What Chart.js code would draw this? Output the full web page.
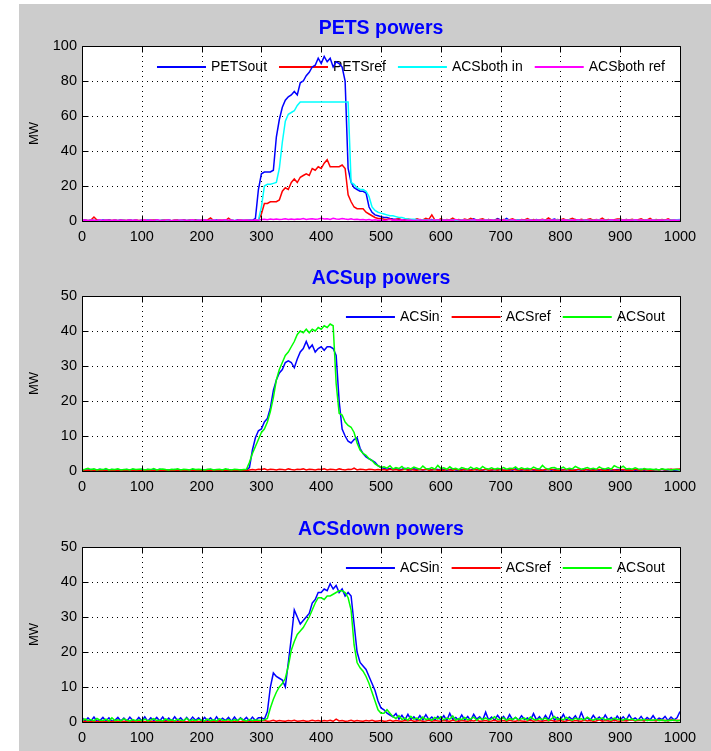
<!DOCTYPE html>
<html>
<head>
<meta charset="utf-8">
<title>PETS / ACS powers</title>
<script src="https://cdn.jsdelivr.net/npm/chart.js@4/dist/chart.umd.min.js"></script>
<style>
  html, body { margin: 0; padding: 0; background: #ffffff; overflow: hidden; }
  #panel { position: absolute; left: 19px; top: 4px; width: 692px; height: 747px; background: #cccccc; }
  canvas { position: absolute; left: 19px; }
</style>
</head>
<body>
<div id="panel"></div>
<canvas id="petsChart" width="692" height="247" style="top:4px"></canvas>
<canvas id="acsUpChart" width="692" height="247" style="top:254px"></canvas>
<canvas id="acsDownChart" width="692" height="247" style="top:505px"></canvas>
<script>
// Sample times: one reading every 5 units from 0 to 1000
const samples = Array.from({ length: 201 }, (_, i) => i * 5);

// Axis tick labels
const xTicks = [0, 100, 200, 300, 400, 500, 600, 700, 800, 900, 1000];
const petsYTicks = [0, 20, 40, 60, 80, 100];
const acsYTicks = [0, 10, 20, 30, 40, 50];

// Panel titles
const titles = ['PETS powers', 'ACSup powers', 'ACSdown powers'];

// ---- PETS powers (MW) ----
const petsOut = [
  0.3,0.5,0.2,0.6,0.3,0.4,0.2,0.5,0.3,0.7,0.2,0.4,0.3,0.5,0.2,0.3,0.6,0.3,0.4,0.2,
  0.4,0.2,0.5,0.3,0.3,0.6,0.2,0.4,0.3,0.5,0.2,0.3,0.4,0.2,0.6,0.3,0.4,0.2,0.5,0.3,
  0.3,0.5,0.2,0.4,0.3,0.6,0.2,0.3,0.5,0.3,0.4,0.2,0.5,0.3,0.4,0.3,0.6,0.4,1.5,18,
  27,28,28,28,29,48,58,65,69,71,72,74,72,79,80,83,85,88,89,93,
  90,94,91,93,88,91,90,88,80,30,22,19,18,17,17,16,8,5,3.5,3,
  2.5,2,2,1.5,1.2,1,0.8,0.6,0.9,0.5,0.7,0.4,0.8,0.5,0.3,0.6,0.4,0.9,0.3,0.5,
  0.4,0.7,0.3,0.5,0.8,0.3,0.6,0.4,0.3,0.7,0.5,1.2,0.4,0.3,0.6,0.4,0.8,0.3,0.5,1.4,
  0.6,0.3,1.5,0.4,0.5,0.3,0.7,0.4,0.5,0.3,0.6,0.4,0.9,0.3,0.5,0.4,0.3,0.6,1.1,0.4,
  0.3,0.6,0.4,0.5,0.3,0.8,0.4,0.3,0.6,0.4,0.5,0.3,0.7,0.4,0.3,0.5,0.4,0.6,0.3,0.4,
  0.5,0.3,0.8,0.4,0.3,0.6,0.4,0.5,0.3,0.7,0.4,0.3,0.5,0.4,0.6,0.3,0.5,0.4,0.3,0.6,0.4
];
const petsRef = [
  0.2,0.4,0.3,0.5,2.3,0.6,0.3,0.2,0.5,0.4,0.3,0.6,0.2,0.4,0.5,0.3,0.4,0.2,0.6,0.3,
  0.3,0.5,0.2,0.4,0.6,0.3,0.2,0.5,0.4,0.3,0.2,0.6,0.4,0.3,0.5,0.2,0.4,0.3,0.5,0.2,
  0.4,0.3,0.6,1.8,0.3,0.2,0.5,0.4,0.3,1.6,0.4,0.2,0.3,0.5,0.2,0.4,0.3,0.2,0.4,0.5,
  4,10,10,11,11,11,12,17,19,18,22,24,22,25,26,27,26,30,29,31,
  30,33,35,31,31,31,31,32,30,15,11,8,7,7,7,5,4,3,2,1.5,
  1.5,1,0.8,1.2,0.5,0.9,1.4,0.6,0.4,1.1,0.7,0.5,1.3,0.8,0.6,1.5,0.9,3.5,0.7,0.5,
  1.2,0.4,0.8,0.6,1.6,0.5,0.9,0.4,1.1,0.6,1.5,0.7,0.4,0.9,1.3,0.5,0.8,0.4,0.6,1.0,
  0.5,0.9,0.4,0.7,1.2,0.5,0.3,0.8,0.6,1.4,0.5,0.9,0.4,0.6,1.0,0.5,1.7,0.6,0.4,0.8,
  0.6,1.3,0.5,0.9,1.5,0.7,0.4,1.0,0.6,0.8,1.2,0.5,0.9,0.6,1.6,0.5,0.8,0.4,0.7,1.1,
  1.2,0.5,0.8,0.6,1.0,0.4,0.7,1.3,0.5,0.6,1.5,0.4,0.8,0.6,0.9,0.5,1.2,0.4,0.7,0.6,0.5
];
const acsBothIn = [
  0.2,0.3,0.2,0.4,0.3,0.2,0.3,0.2,0.4,0.3,0.2,0.3,0.2,0.3,0.4,0.2,0.3,0.2,0.3,0.2,
  0.3,0.2,0.4,0.2,0.3,0.2,0.3,0.4,0.2,0.3,0.2,0.3,0.2,0.4,0.3,0.2,0.3,0.2,0.3,0.4,
  0.2,0.3,0.2,0.3,0.4,0.2,0.3,0.2,0.3,0.2,0.4,0.3,0.2,0.3,0.2,0.3,0.4,0.2,0.3,0.5,
  8,20,21,21,21.5,22,30,45,57,61,62,63,66,68,68,68,68,68,68,68,
  68,68,68,68,68,68,68,68,68,68,22,21,19,18,18,17,14,8,6,5,
  4.5,4,3.5,3,3,2.5,2,2,1.5,1.2,1,1,0.8,0.7,0.6,0.5,0.6,0.4,0.5,0.4,
  0.3,0.5,0.4,0.3,0.6,0.4,0.3,0.5,0.4,0.3,0.4,0.5,0.3,0.4,0.3,0.5,0.4,0.3,0.4,0.3,
  0.4,0.3,0.5,0.3,0.4,0.3,0.6,0.4,0.3,0.4,0.5,0.3,0.4,0.3,0.5,0.4,0.3,0.4,0.3,0.5,
  0.3,0.4,0.3,0.5,0.4,0.3,0.4,0.3,0.5,0.3,0.4,0.3,0.4,0.5,0.3,0.4,0.3,0.4,0.3,0.4,
  0.5,0.3,0.4,0.3,0.4,0.5,0.3,0.4,0.3,0.4,0.3,0.5,0.4,0.3,0.4,0.3,0.4,0.5,0.6,0.7,0.8
];
const acsBothRef = [
  0.3,0.5,0.2,0.6,0.4,0.3,0.7,0.2,0.5,0.4,0.3,0.6,0.2,0.5,0.3,0.4,0.6,0.3,0.5,0.2,
  0.4,0.6,0.3,0.5,0.2,0.7,0.4,0.3,0.5,0.6,0.2,0.4,0.3,0.6,0.5,0.3,0.4,0.7,0.2,0.5,
  0.3,0.5,0.4,0.2,0.6,0.3,0.5,0.4,0.7,0.3,0.5,0.2,0.4,0.6,0.3,0.5,0.4,0.3,0.6,0.5,
  0.8,1.0,0.7,1.1,0.9,1.2,0.8,1.0,1.3,0.9,1.1,0.8,1.2,1.0,1.4,0.9,1.1,1.3,1.0,1.2,
  1.5,1.1,1.3,0.9,1.6,1.2,1.0,1.4,1.1,0.9,1.3,0.8,1.0,0.7,0.9,0.6,0.8,0.5,0.7,0.4,
  0.6,0.3,0.5,0.8,0.4,0.6,0.3,0.7,0.5,0.4,0.6,0.3,0.5,0.7,0.4,0.3,0.6,0.5,0.4,0.7,
  0.3,0.5,0.4,0.6,0.3,0.8,0.5,0.4,0.6,0.3,0.5,0.7,0.4,0.6,0.3,0.5,0.4,0.6,0.3,0.5,
  0.4,0.6,0.3,0.5,0.7,0.4,0.3,0.6,0.5,0.4,0.6,0.3,0.5,0.4,0.7,0.3,0.5,0.4,0.6,0.3,
  0.5,0.4,0.6,0.3,0.5,0.4,0.7,0.3,0.5,0.6,0.4,0.3,0.5,0.4,0.6,0.3,0.5,0.7,0.4,0.5,
  0.3,0.6,0.4,0.5,0.3,0.7,0.4,0.5,0.3,0.6,0.4,0.5,0.3,0.6,0.4,0.5,0.7,0.3,0.5,0.4,0.6
];

// ---- ACSup powers (MW) ----
const upIn = [
  0.2,0.3,0.2,0.4,0.2,0.3,0.5,0.2,0.3,0.2,0.4,0.2,0.3,0.2,0.3,0.4,0.2,0.3,0.2,0.3,
  0.3,0.2,0.4,0.2,0.3,0.2,0.5,0.3,0.2,0.3,0.2,0.4,0.2,0.3,0.2,0.3,0.2,0.4,0.3,0.2,
  0.2,0.3,0.2,0.4,0.2,0.3,0.2,0.3,0.2,0.4,0.2,0.3,0.2,0.3,0.2,0.3,1,6,9.5,11.5,
  12,14,15,18,23,26,28,29,31,31.5,31,29.5,32,34,35,37,35,36,34,35,
  35.5,34.5,35.5,35.5,35,33,20,12,10,8.5,8,9,9.5,6.5,5,4,3.5,3,2.5,1.5,
  1,0.8,0.5,0.7,0.4,0.6,0.3,0.5,0.8,0.4,0.3,0.6,0.4,0.5,0.3,0.4,0.6,0.3,0.5,0.4,
  0.3,0.5,0.2,0.4,0.6,0.3,0.2,0.5,0.3,0.4,0.2,0.6,0.3,0.4,0.2,0.5,0.3,0.2,0.4,0.3,
  0.5,0.2,0.3,0.4,0.2,0.6,0.3,0.2,0.4,0.3,0.5,0.2,0.3,0.4,0.2,0.3,0.5,0.2,0.4,0.3,
  0.2,0.4,0.3,0.5,0.2,0.3,0.4,0.2,0.6,0.3,0.2,0.4,0.3,0.2,0.5,0.3,0.4,0.2,0.3,0.4,
  0.3,0.2,0.5,0.3,0.4,0.2,0.3,0.5,0.2,0.4,0.3,0.2,0.4,0.3,0.5,0.2,0.3,0.4,0.2,0.3,0.4
];
const upRef = [
  0.1,0.1,0.2,0.1,0.1,0.1,0.2,0.1,0.1,0.1,0.1,0.2,0.1,0.1,0.1,0.1,0.2,0.1,0.1,0.1,
  0.1,0.2,0.1,0.1,0.1,0.1,0.1,0.2,0.1,0.1,0.1,0.1,0.2,0.1,0.1,0.1,0.1,0.1,0.2,0.1,
  0.1,0.1,0.1,0.2,0.1,0.1,0.1,0.1,0.2,0.1,0.1,0.1,0.1,0.2,0.1,0.1,0.3,0.4,0.3,0.5,
  0.4,0.6,0.3,0.5,0.4,0.3,0.5,0.4,0.3,0.6,0.4,0.3,0.5,0.4,0.6,0.3,0.5,0.4,0.3,0.5,
  0.4,0.6,0.3,0.5,0.4,0.3,0.6,0.4,0.3,0.5,0.4,0.8,0.3,0.5,0.4,0.3,0.5,0.4,0.3,0.4,
  0.3,0.4,0.2,0.5,0.3,0.4,0.2,0.3,0.5,0.2,0.4,0.3,0.2,0.4,0.3,0.5,0.2,0.3,0.4,0.2,
  0.3,0.2,0.4,0.3,0.2,0.5,0.3,0.2,0.4,0.3,0.2,0.3,0.4,0.2,0.3,0.5,0.2,0.3,0.4,0.2,
  0.4,0.2,0.3,0.2,0.5,0.3,0.2,0.4,0.3,0.2,0.3,0.4,0.2,0.3,0.2,0.4,0.3,0.5,0.2,0.3,
  0.2,0.3,0.4,0.2,0.3,0.2,0.5,0.3,0.2,0.4,0.3,0.2,0.3,0.4,0.2,0.3,0.2,0.4,0.3,0.2,
  0.3,0.4,0.2,0.3,0.2,0.5,0.3,0.2,0.4,0.3,0.2,0.3,0.4,0.3,0.5,0.3,0.4,0.5,0.4,0.5,0.6
];
const upOut = [
  0.3,0.5,0.8,0.4,0.6,0.3,0.5,0.4,0.7,0.3,0.5,0.4,0.6,0.3,0.4,0.5,0.3,0.6,0.4,0.5,
  0.6,0.3,0.5,0.4,0.7,0.3,0.5,0.6,0.4,0.3,0.5,0.4,0.6,0.3,0.5,0.4,0.3,0.6,0.4,0.5,
  0.4,0.3,0.5,0.6,0.3,0.4,0.5,0.3,0.6,0.4,0.3,0.5,0.4,0.3,0.4,0.5,2.5,5,7,9,
  11,12,14,17,21,26,29,31,33,34,35.5,37,39,40,39.5,40.5,39.5,40.5,40,41,
  40.5,41.5,41,42,41.5,25,16.5,16,14,13,12.5,11,8,6,5,4.5,3.5,3,2,1.5,
  1,1.2,0.8,1.5,0.6,1.0,0.7,1.3,0.5,0.9,0.6,1.1,0.8,0.5,1.4,0.7,0.6,1.0,0.5,1.6,
  0.7,0.9,0.5,1.2,0.6,0.8,0.4,1.0,0.7,0.5,1.1,0.6,0.9,0.5,1.3,0.7,0.6,0.9,0.5,0.8,
  0.6,1.0,0.5,0.8,0.7,1.2,0.5,0.9,0.6,0.8,0.5,1.1,0.7,0.6,1.6,0.8,0.5,0.9,1.0,0.6,
  0.7,1.1,0.5,0.8,0.6,1.3,0.9,0.5,0.7,1.0,0.6,0.8,0.5,1.2,0.7,0.6,0.9,0.5,1.5,1.1,
  0.8,1.4,0.6,0.7,0.5,0.9,0.6,0.4,0.7,0.5,0.6,0.4,0.5,0.3,0.6,0.4,0.5,0.3,0.4,0.5,0.3
];

// ---- ACSdown powers (MW) ----
const downIn = [
  1.3,0.2,1.2,0.3,1.4,0.2,0.4,1.3,0.3,1.2,0.2,0.5,1.3,0.3,1.1,0.2,1.4,0.4,0.3,1.3,
  0.3,1.5,0.2,1.2,0.4,1.3,0.3,1.4,0.2,1.1,0.3,1.5,0.4,1.2,0.2,1.3,0.3,1.4,0.5,1.2,
  0.3,1.3,0.4,1.2,0.2,1.5,0.3,1.1,0.4,1.3,0.2,1.4,0.3,1.2,0.5,1.3,0.3,1.4,0.4,1.2,
  1.2,0.8,3,10,14,13,12.5,12,10,17,24,32,30,28,29,30,31,34,35,37,
  37,38,37.5,39.5,38,39,37,38,36,37,36,28,20,17,16,15,13,11,9,6,
  4,3.5,2.5,2,1.5,2.4,0.8,1.9,0.6,2.2,0.7,1.5,0.5,1.8,0.6,2.1,0.7,1.4,0.5,1.6,
  0.6,1.8,0.4,2.5,0.7,1.3,0.5,2.0,0.6,1.6,0.4,2.2,0.8,1.5,0.5,2.8,0.6,1.4,0.5,1.9,
  0.7,1.6,0.4,2.1,0.6,1.3,0.5,1.8,0.7,1.2,0.5,2.4,0.6,1.5,0.4,1.9,0.6,2.9,0.5,1.3,
  0.6,2.2,0.5,1.4,0.7,1.8,0.4,2.7,0.6,1.2,0.5,1.9,0.7,1.4,0.5,2.0,0.6,1.3,0.4,1.7,
  0.6,1.5,0.5,2.1,0.7,1.2,0.5,1.6,0.4,1.3,0.6,1.8,0.5,1.1,0.7,1.6,0.4,1.4,0.6,1.2,3.0
];
const downRef = [
  0.1,0.2,0.1,0.1,0.3,0.1,0.2,0.1,0.1,0.2,0.1,0.3,0.1,0.1,0.2,0.1,0.1,0.2,0.1,0.1,
  0.2,0.1,0.1,0.3,0.1,0.2,0.1,0.1,0.2,0.1,0.3,0.1,0.1,0.2,0.1,0.1,0.2,0.1,0.3,0.1,
  0.1,0.2,0.1,0.1,0.2,0.1,0.3,0.1,0.1,0.2,0.1,0.1,0.2,0.1,0.3,0.1,0.1,0.2,0.1,0.2,
  0.3,0.4,0.2,0.3,0.5,0.2,0.4,0.3,0.2,0.4,0.3,0.5,0.2,0.3,0.4,0.2,0.3,0.5,0.3,0.4,
  0.2,0.4,0.3,0.5,0.2,0.8,0.3,0.4,0.2,0.3,0.5,0.2,0.4,0.3,0.2,0.4,0.3,0.5,0.2,0.3,
  0.4,0.2,0.3,0.5,0.2,0.4,0.3,0.2,0.4,0.3,0.5,0.2,0.3,0.4,0.2,0.3,0.5,0.2,0.4,0.3,
  0.2,0.4,0.3,0.2,0.5,0.3,0.2,0.4,0.3,0.2,0.4,0.3,0.5,0.2,0.3,0.4,0.2,0.3,0.5,0.2,
  0.3,0.4,0.2,0.5,0.3,0.2,0.4,0.3,0.2,0.3,0.5,0.2,0.4,0.3,0.2,0.4,0.3,0.5,0.2,0.3,
  0.4,0.2,0.3,0.5,0.2,0.4,0.3,0.2,0.5,0.3,0.4,0.2,0.3,0.6,0.2,0.4,0.3,0.2,0.5,0.3,
  0.2,0.4,0.3,0.5,0.6,0.3,0.4,0.5,0.3,0.6,0.4,0.5,0.3,0.6,0.4,0.5,0.3,0.6,0.4,0.5,0.4
];
const downOut = [
  0.3,0.9,0.4,0.7,0.3,1.0,0.5,0.4,0.8,0.3,1.2,0.4,0.6,0.3,0.9,0.5,0.3,0.7,0.4,0.6,
  0.4,0.8,0.3,0.6,1.0,0.4,0.5,0.3,0.9,0.4,0.6,0.3,0.8,0.5,0.4,1.1,0.3,0.6,0.4,0.7,
  0.5,0.3,0.8,0.4,0.6,0.3,0.9,0.5,0.4,0.7,0.3,0.6,0.4,1.0,0.5,0.3,0.7,0.4,0.6,0.5,
  0.4,0.6,1,4,6.5,8.5,10,11,12.5,16,20.5,23,25,26,27,28.5,30,32,34,35.5,
  35.5,35,36,36,36.5,37,37.5,37.5,37,35.5,32,22,17,15.5,14.5,13,11,8.5,6,3.5,
  2.5,2.5,3.5,2.5,1.5,1.0,1.8,0.7,1.2,0.5,1.6,0.8,1.1,0.6,1.4,0.7,1.0,0.5,1.3,0.8,
  1.5,0.6,1.1,0.8,1.7,0.5,1.0,0.7,1.3,0.6,0.9,1.4,0.5,1.1,0.7,1.2,0.6,0.9,1.5,0.7,
  0.8,1.2,0.5,1.0,0.7,1.3,0.6,0.9,1.1,0.5,1.4,0.8,0.6,1.0,0.7,1.2,0.5,0.9,1.6,0.7,
  1.0,0.6,1.3,0.8,0.5,1.1,0.7,0.9,0.6,1.4,0.8,0.5,1.0,0.7,1.2,0.6,0.9,0.5,1.1,0.7,
  0.8,0.5,1.0,0.6,0.9,0.4,0.7,0.5,0.8,0.4,0.6,0.5,0.7,0.4,0.6,0.3,0.5,0.4,0.6,0.3,0.5
];

const FONT = '"Liberation Sans", Arial, Helvetica, sans-serif';

// Legend drawn inside the plot box, right-aligned along the top edge
function drawLegend(chart) {
  const { ctx, chartArea: a } = chart;
  const sets = chart.data.datasets;
  const lineLen = 49, gap = 5, sep = 12;
  ctx.font = '14px ' + FONT;
  const widths = sets.map(d => ctx.measureText(d.label).width);
  const total = widths.reduce((s, w) => s + lineLen + gap + w, 0) + sep * (sets.length - 1);
  let x = a.right - 15 - total;
  const y = Math.round(a.top + 21);
  ctx.textAlign = 'left';
  ctx.textBaseline = 'middle';
  sets.forEach((d, i) => {
    ctx.strokeStyle = d.borderColor;
    ctx.lineWidth = 2;
    ctx.beginPath();
    ctx.moveTo(x, y);
    ctx.lineTo(x + lineLen, y);
    ctx.stroke();
    ctx.fillStyle = '#000';
    ctx.fillText(d.label, x + lineLen + gap, y);
    x += lineLen + gap + widths[i] + sep;
  });
}

// White plot box, dotted grid, inward tick marks, frame and panel title
function framePlugin(titleText) {
  return {
    id: 'matlabFrame',
    beforeDatasetsDraw(chart) {
      const { ctx, chartArea: a } = chart;
      const xs = chart.scales.x, ys = chart.scales.y;
      ctx.save();
      ctx.fillStyle = '#ffffff';
      ctx.fillRect(a.left, a.top, a.right - a.left, a.bottom - a.top);
      ctx.strokeStyle = '#000';
      ctx.lineWidth = 1;
      ctx.setLineDash([1, 4]);
      ctx.beginPath();
      xs.ticks.forEach(t => {
        if (t.value <= xs.min || t.value >= xs.max) return;
        const px = Math.round(xs.getPixelForValue(t.value)) + 0.5;
        ctx.moveTo(px, a.top);
        ctx.lineTo(px, a.bottom);
      });
      ys.ticks.forEach(t => {
        if (t.value <= ys.min || t.value >= ys.max) return;
        const py = Math.round(ys.getPixelForValue(t.value)) + 0.5;
        ctx.moveTo(a.left, py);
        ctx.lineTo(a.right, py);
      });
      ctx.stroke();
      ctx.setLineDash([]);
      drawLegend(chart);
      ctx.restore();
    },
    afterDatasetsDraw(chart) {
      const { ctx, chartArea: a } = chart;
      const xs = chart.scales.x, ys = chart.scales.y;
      const tl = 6;
      const L = Math.round(a.left) + 0.5, R = Math.round(a.right) + 0.5;
      const T = Math.round(a.top) + 0.5, B = Math.round(a.bottom) + 0.5;
      ctx.save();
      ctx.strokeStyle = '#000';
      ctx.lineWidth = 1;
      ctx.beginPath();
      xs.ticks.forEach(t => {
        const px = Math.round(xs.getPixelForValue(t.value)) + 0.5;
        ctx.moveTo(px, B); ctx.lineTo(px, B - tl);
        ctx.moveTo(px, T); ctx.lineTo(px, T + tl);
      });
      ys.ticks.forEach(t => {
        const py = Math.round(ys.getPixelForValue(t.value)) + 0.5;
        ctx.moveTo(L, py); ctx.lineTo(L + tl, py);
        ctx.moveTo(R, py); ctx.lineTo(R - tl, py);
      });
      ctx.rect(L, T, R - L, B - T);
      ctx.stroke();
      ctx.fillStyle = '#0000ff';
      ctx.font = 'bold 19.5px ' + FONT;
      ctx.textAlign = 'center';
      ctx.textBaseline = 'alphabetic';
      ctx.fillText(titleText, (a.left + a.right) / 2, a.top - 12);
      ctx.restore();
    }
  };
}

function buildChart(canvasId, titleText, yTicks, series) {
  const yMax = yTicks[yTicks.length - 1];
  return new Chart(document.getElementById(canvasId), {
    type: 'line',
    data: {
      datasets: series.map((s, i) => ({
        label: s.label,
        data: samples.map((x, j) => ({ x: x, y: s.values[j] })),
        borderColor: s.color,
        backgroundColor: s.color,
        borderWidth: 1.5,
        pointRadius: 0,
        tension: 0,
        fill: false,
        order: series.length - i
      }))
    },
    options: {
      responsive: false,
      animation: false,
      events: [],
      layout: { padding: { top: 42, right: 31, bottom: 0, left: 0 } },
      plugins: { legend: { display: false }, tooltip: { enabled: false }, title: { display: false } },
      scales: {
        x: {
          type: 'linear', min: xTicks[0], max: xTicks[xTicks.length - 1],
          afterBuildTicks(scale) { scale.ticks = xTicks.map(v => ({ value: v })); },
          ticks: { color: '#000', font: { family: FONT, size: 14.5 }, padding: 7, maxRotation: 0, autoSkip: false,
                   callback: v => String(v) },
          grid: { display: false, drawTicks: false },
          border: { display: false },
          afterFit(scale) { scale.height = 30; }
        },
        y: {
          type: 'linear', min: yTicks[0], max: yMax,
          afterBuildTicks(scale) { scale.ticks = yTicks.map(v => ({ value: v })); },
          ticks: { color: '#000', font: { family: FONT, size: 14.5 }, padding: 5, autoSkip: false,
                   callback: v => String(v) },
          grid: { display: false, drawTicks: false },
          border: { display: false },
          title: { display: true, text: 'MW', color: '#000', font: { family: FONT, size: 13 }, padding: { top: 8, bottom: 0 } },
          afterFit(scale) { scale.width = 63; }
        }
      }
    },
    plugins: [framePlugin(titleText)]
  });
}

buildChart('petsChart', titles[0], petsYTicks, [
  { label: 'PETSout', values: petsOut, color: '#0000ff' },
  { label: 'PETSref', values: petsRef, color: '#ff0000' },
  { label: 'ACSboth in', values: acsBothIn, color: '#00ffff' },
  { label: 'ACSboth ref', values: acsBothRef, color: '#ff00ff' }
]);
buildChart('acsUpChart', titles[1], acsYTicks, [
  { label: 'ACSin', values: upIn, color: '#0000ff' },
  { label: 'ACSref', values: upRef, color: '#ff0000' },
  { label: 'ACSout', values: upOut, color: '#00ff00' }
]);
buildChart('acsDownChart', titles[2], acsYTicks, [
  { label: 'ACSin', values: downIn, color: '#0000ff' },
  { label: 'ACSref', values: downRef, color: '#ff0000' },
  { label: 'ACSout', values: downOut, color: '#00ff00' }
]);
</script>
</body>
</html>
